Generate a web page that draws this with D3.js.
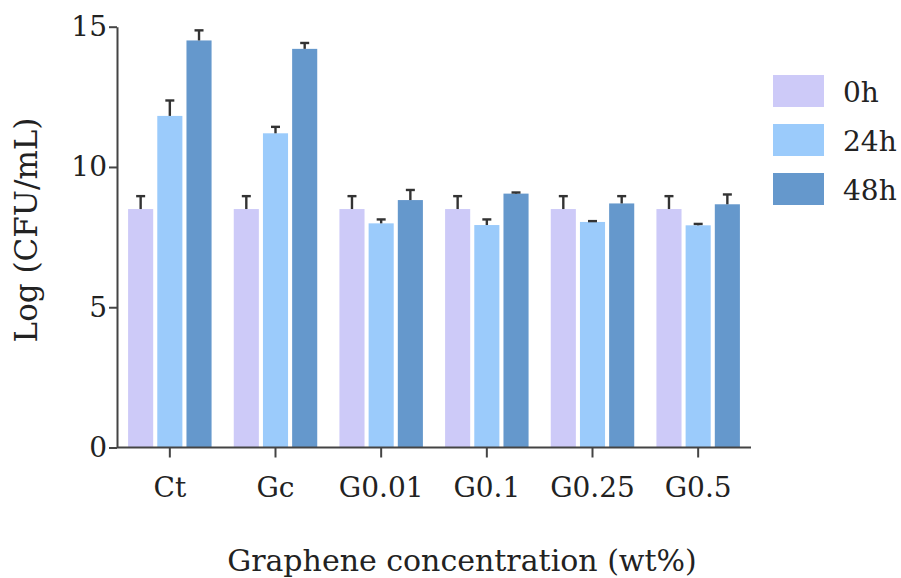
<!DOCTYPE html>
<html><head><meta charset="utf-8">
<script src="https://cdn.jsdelivr.net/npm/d3@7"></script>
<style>body{margin:0;background:#fff}svg{display:block}</style>
</head><body>
<script>
const categories = ["Ct", "Gc", "G0.01", "G0.1", "G0.25", "G0.5"];
const seriesNames = ["0h", "24h", "48h"];
const values0h  = [8.50, 8.50, 8.50, 8.50, 8.50, 8.50];
const values24h = [11.82, 11.20, 7.99, 7.93, 8.04, 7.92];
const values48h = [14.51, 14.21, 8.82, 9.05, 8.70, 8.67];
const err0h  = [0.46, 0.46, 0.46, 0.46, 0.46, 0.46];
const err24h = [0.55, 0.23, 0.14, 0.20, 0.03, 0.05];
const err48h = [0.36, 0.21, 0.36, 0.04, 0.26, 0.35];
const yTicks = [0, 5, 10, 15];
const colors = ["#cdcaf8", "#9bcbfb", "#6598cc"];

const W = 901, H = 578;
const svg = d3.select("body").append("svg").attr("width", W).attr("height", H);
const font = "'DejaVu Serif', serif";

const x = d3.scaleBand().domain(categories).range([117, 751]).paddingInner(0.21).paddingOuter(0.105);
const xs = d3.scaleBand().domain(seriesNames).range([0, x.bandwidth()]).paddingInner(0.14);
const y = d3.scaleLinear().domain([0, 15]).range([447.5, 26.7]);

const allVals = [values0h, values24h, values48h];
const allErr = [err0h, err24h, err48h];
const rows = [];
seriesNames.forEach((s, si) => categories.forEach((c, ci) => rows.push({s, si, c, v: allVals[si][ci], e: allErr[si][ci]})));

svg.append("g").selectAll("rect").data(rows).join("rect")
  .attr("x", d => x(d.c) + xs(d.s))
  .attr("width", xs.bandwidth())
  .attr("y", d => y(d.v))
  .attr("height", d => y(0) - y(d.v))
  .attr("fill", d => colors[d.si]);

const eb = svg.append("g").attr("stroke", "#333").attr("stroke-width", 2.4);
rows.forEach(d => {
  const cx = x(d.c) + xs(d.s) + xs.bandwidth() / 2;
  eb.append("line").attr("x1", cx).attr("x2", cx).attr("y1", y(d.v)).attr("y2", y(d.v + d.e));
  eb.append("line").attr("x1", cx - 4.5).attr("x2", cx + 4.5).attr("y1", y(d.v + d.e)).attr("y2", y(d.v + d.e));
});

const yAxis = svg.append("g").attr("transform", "translate(117,0)")
  .call(d3.axisLeft(y).tickValues(yTicks).tickSize(8).tickPadding(2).tickSizeOuter(0));
const xAxis = svg.append("g").attr("transform", "translate(0,447.5)")
  .call(d3.axisBottom(x).tickSize(10).tickPadding(20).tickSizeOuter(0));
[yAxis, xAxis].forEach(a => {
  a.select(".domain").attr("stroke", "#444").attr("stroke-width", 2);
  a.selectAll(".tick line").attr("stroke", "#444").attr("stroke-width", 2);
  a.selectAll("text").attr("font-family", font).attr("font-size", 28).attr("fill", "#222");
});
xAxis.select(".domain").attr("d", "M117,0H751");

svg.append("text").attr("transform", "translate(37,230) rotate(-90)")
  .attr("text-anchor", "middle").attr("font-family", font).attr("font-size", 31).attr("fill", "#222")
  .text("Log (CFU/mL)");
svg.append("text").attr("x", 462).attr("y", 571)
  .attr("text-anchor", "middle").attr("font-family", font).attr("font-size", 30).attr("fill", "#222")
  .text("Graphene concentration (wt%)");

const leg = svg.append("g");
seriesNames.forEach((s, i) => {
  leg.append("rect").attr("x", 773).attr("y", 75 + i * 49).attr("width", 51).attr("height", 32).attr("fill", colors[i]);
  leg.append("text").attr("x", 843).attr("y", 102 + i * 49).attr("font-family", font).attr("font-size", 28).attr("fill", "#222").text(s);
});
</script>
</body></html>
